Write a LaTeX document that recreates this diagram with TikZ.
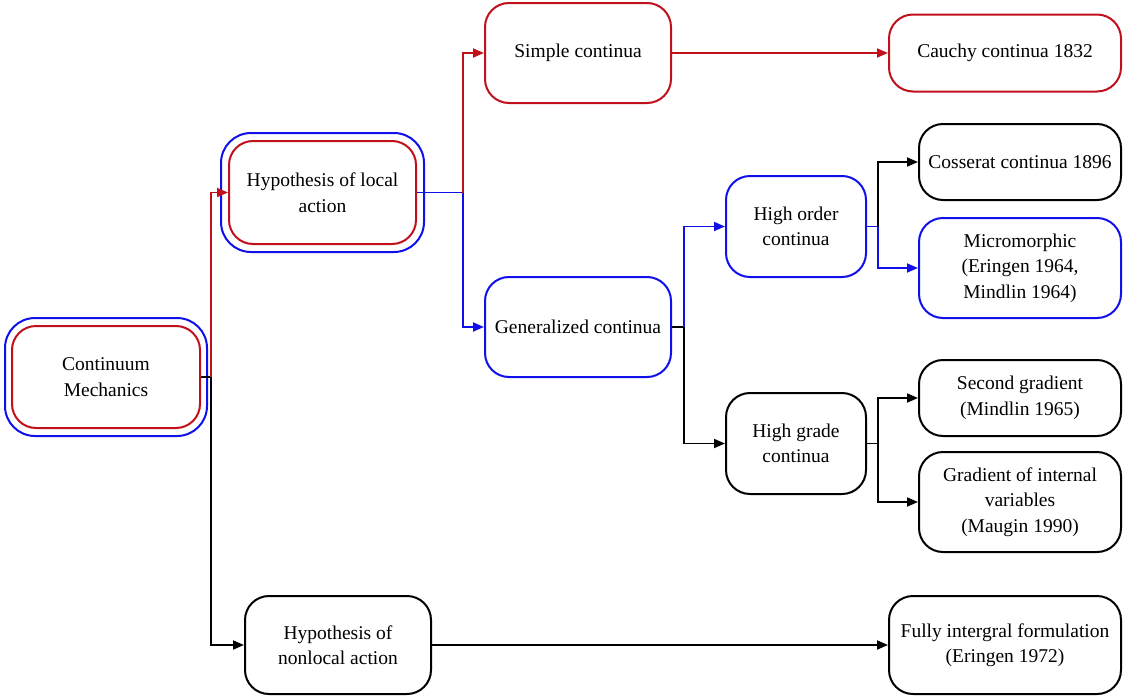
\documentclass[tikz,border=0pt]{standalone}
\usepackage{fontspec}
\setmainfont{Liberation Serif}
\usetikzlibrary{arrows.meta}
\definecolor{myred}{RGB}{192,16,28}
\definecolor{myblue}{RGB}{16,16,235}
\begin{document}
\begin{tikzpicture}[x=1pt,y=-1pt,
  box/.style={draw, rounded corners=24pt, line width=2pt, align=center,
    inner sep=0pt, font=\fontsize{19.5}{25.5}\selectfont},
  sz/.style 2 args={minimum width=#1, minimum height=#2},
  redbox/.style={box, draw=myred},
  bluebox/.style={box, draw=myblue},
  blackbox/.style={box, draw=black},
  outerbox/.style={draw=myblue, line width=2pt, rounded corners=30pt, inner sep=0pt},
  wire/.style={line width=1.8pt},
  conn/.style={wire, -{Triangle[length=11pt,width=9pt]}}]
\useasboundingbox (0,0) rectangle (1124,696);

% double boxes
\node[outerbox, sz={202}{118}] (cmOut) at (106,377) {};
\node[redbox, sz={188}{102}] (cmIn) at (106,377) {Continuum\\Mechanics};
\node[outerbox, sz={203}{119}] (hlOut) at (322.5,192.5) {};
\node[redbox, sz={187}{103}] (hlIn) at (322.5,192.5) {Hypothesis of local\\action};

% single boxes
\node[redbox, sz={186}{100}] (simple) at (578,53) {Simple continua};
\node[redbox, sz={232}{77}] (cauchy) at (1005,53) {Cauchy continua 1832};
\node[bluebox, sz={186}{100}] (gen) at (578,327) {Generalized continua};
\node[bluebox, sz={140}{101}] (hord) at (796,226.5) {High order\\continua};
\node[blackbox, sz={140}{101}] (hgrade) at (796,443.5) {High grade\\continua};
\node[blackbox, sz={202}{76}] (coss) at (1020,162) {Cosserat continua 1896};
\node[bluebox, sz={202}{100}] (micro) at (1020,268) {Micromorphic\\(Eringen 1964,\\Mindlin 1964)};
\node[blackbox, sz={202}{76}] (second) at (1020,398) {Second gradient\\(Mindlin 1965)};
\node[blackbox, sz={202}{100}] (gradint) at (1020,502) {Gradient of internal\\variables\\(Maugin 1990)};
\node[blackbox, sz={186}{98}] (nonlocal) at (338,645) {Hypothesis of\\nonlocal action};
\node[blackbox, sz={232}{98}] (fully) at (1005,645) {Fully intergral formulation\\(Eringen 1972)};

% connectors
\draw[wire, black] (cmIn.east) -- ++(10,0) coordinate (j1);
\draw[conn, myred] (j1) |- (hlIn.west);
\draw[conn, black] (j1) |- (nonlocal.west);

\draw[wire, myblue] (hlIn.east) -- ++(46,0) coordinate (j2);
\draw[conn, myred] (j2) |- (simple.west);
\draw[conn, myblue] (j2) |- (gen.west);

\draw[conn, myred] (simple.east) -- (cauchy.west);

\draw[wire, black] (gen.east) -- ++(12,0) coordinate (j3);
\draw[conn, myblue] (j3) |- (hord.west);
\draw[conn, black] (j3) |- (hgrade.west);

\draw[wire, myblue] (hord.east) -- ++(11,0) coordinate (j4);
\draw[conn, black] (j4) |- (coss.west);
\draw[conn, myblue] (j4) |- (micro.west);

\draw[wire, black] (hgrade.east) -- ++(11,0) coordinate (j5);
\draw[conn, black] (j5) |- (second.west);
\draw[conn, black] (j5) |- (gradint.west);

\draw[conn, black] (nonlocal.east) -- (fully.west);
\end{tikzpicture}
\end{document}
